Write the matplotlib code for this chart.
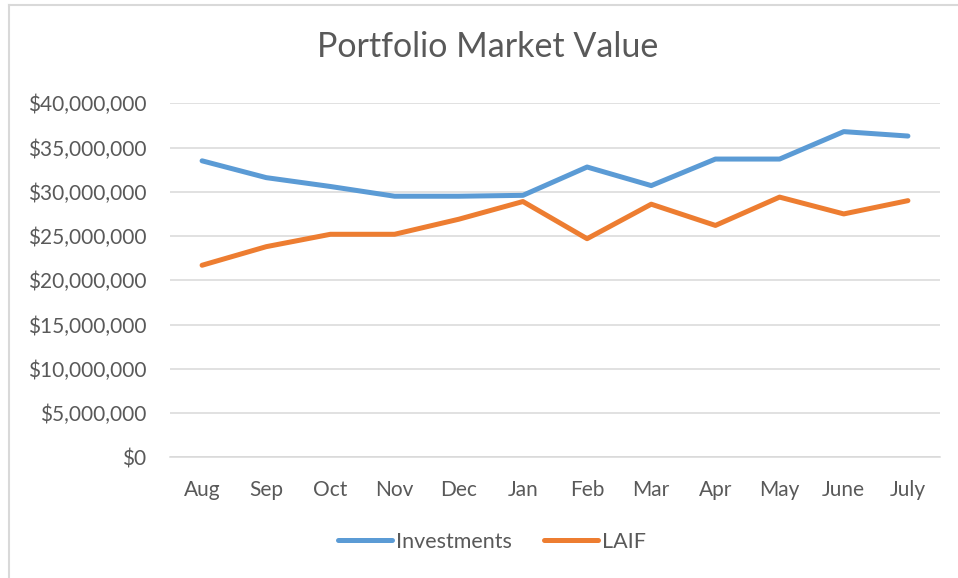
import matplotlib
matplotlib.use("Agg")
import matplotlib.pyplot as plt
from matplotlib.ticker import FuncFormatter, MultipleLocator
from matplotlib.lines import Line2D

months = ["Aug", "Sep", "Oct", "Nov", "Dec", "Jan", "Feb", "Mar", "Apr", "May", "June", "July"]
investments = [33.5e6, 31.6e6, 30.6e6, 29.5e6, 29.5e6, 29.6e6, 32.8e6, 30.7e6, 33.7e6, 33.7e6, 36.8e6, 36.3e6]
laif = [21.7e6, 23.8e6, 25.2e6, 25.2e6, 26.9e6, 28.9e6, 24.7e6, 28.6e6, 26.2e6, 29.4e6, 27.5e6, 29.0e6]

plt.rcParams['font.family'] = ['Lato', 'DejaVu Sans']
txt = "#595959"
grid = "#D9D9D9"

fig = plt.figure(figsize=(9.58, 5.78), dpi=100)
# chart border (top and left visible)
fig.add_artist(Line2D([8.5/958, 1.0], [1 - 4.5/578, 1 - 4.5/578], transform=fig.transFigure,
                      color=grid, linewidth=1.5))
fig.add_artist(Line2D([8.5/958, 8.5/958], [0.0, 1 - 4.5/578], transform=fig.transFigure,
                      color=grid, linewidth=1.5))

ax = fig.add_axes([170/958, (578-457.3)/578, 770/958, 354/578])
x = list(range(len(months)))
ax.plot(x, investments, color="#5B9BD5", linewidth=3.6, solid_capstyle="round",
        solid_joinstyle="round", label="Investments")
ax.plot(x, laif, color="#ED7D31", linewidth=3.6, solid_capstyle="round",
        solid_joinstyle="round", label="LAIF")

ax.set_xlim(-0.5, len(months) - 0.5)
ax.set_ylim(0, 40e6)
ax.yaxis.set_major_locator(MultipleLocator(5e6))
ax.yaxis.set_major_formatter(FuncFormatter(lambda v, p: "${:,.0f}".format(v)))
ax.set_xticks(x)
ax.set_xticklabels(months)
ax.grid(axis="y", color=grid, linewidth=1.1)
ax.set_axisbelow(True)
for s in ["top", "right", "left"]:
    ax.spines[s].set_visible(False)
ax.spines["bottom"].set_color(grid)
ax.spines["bottom"].set_linewidth(1.1)
ax.tick_params(axis="both", length=0, labelsize=15, colors=txt)
ax.tick_params(axis="x", pad=16)
ax.tick_params(axis="y", pad=17)

fig.text(488/958, 1 - 47/578, "Portfolio Market Value", ha="center", va="center",
         fontsize=24.5, color=txt)
leg = fig.legend(loc="center", bbox_to_anchor=(492/958, 1 - 542/578), ncol=2, frameon=False,
                 fontsize=15.5, handlelength=2.5, handletextpad=0.2, columnspacing=1.5)
for t in leg.get_texts():
    t.set_color(txt)

fig.savefig("out.png", dpi=100)
